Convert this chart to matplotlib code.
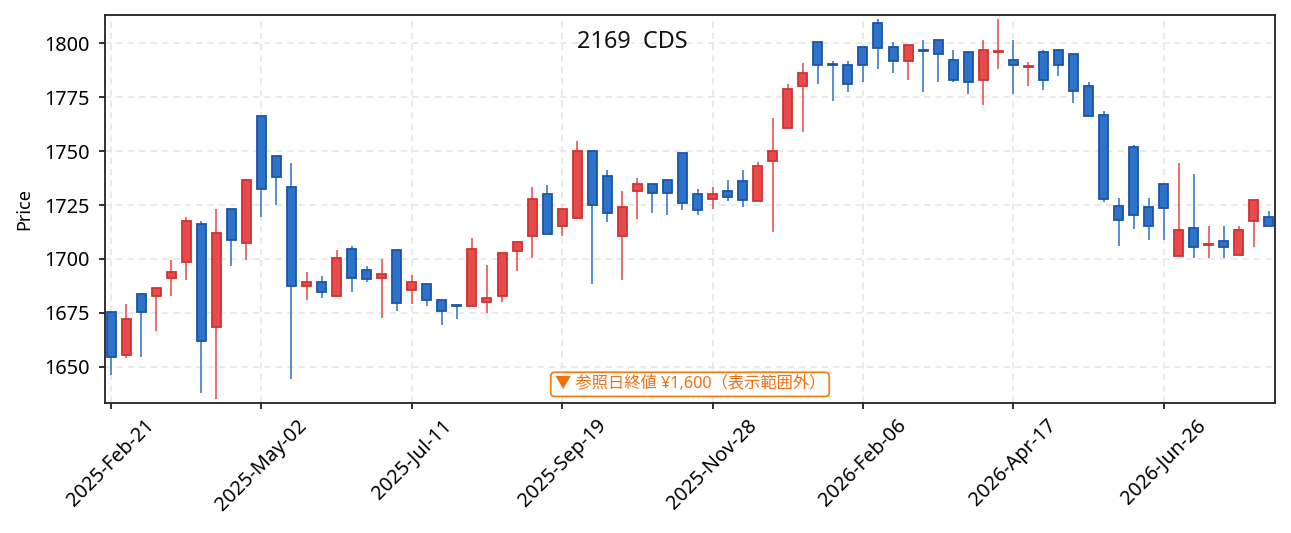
import matplotlib
matplotlib.use("Agg")
import matplotlib.pyplot as plt
import numpy as np
import pandas as pd

plt.rcParams['font.family'] = ['Noto Sans', 'Noto Sans CJK JP', 'DejaVu Sans']

dates = pd.date_range("2025-02-21", periods=78, freq="7D")

opens = [1675.5, 1655.5, 1684.0, 1683.0, 1691.0, 1698.5, 1716.0, 1668.5, 1723.0, 1707.5,
         1766.0, 1747.5, 1733.5, 1687.5, 1689.5, 1683.0, 1704.5, 1695.0, 1691.0, 1704.0,
         1685.5, 1688.5, 1681.0, 1678.5, 1678.0, 1680.0, 1683.0, 1703.5, 1710.5, 1730.0,
         1715.5, 1719.0, 1750.0, 1738.5, 1710.5, 1731.5, 1734.5, 1736.5, 1749.0, 1730.0,
         1728.0, 1731.5, 1736.0, 1727.0, 1745.5, 1760.5, 1780.0, 1800.5, 1790.5, 1790.0,
         1798.0, 1809.5, 1798.0, 1791.5, 1797.0, 1801.5, 1792.0, 1796.0, 1783.0, 1796.0,
         1792.0, 1789.0, 1796.0, 1797.0, 1795.0, 1780.0, 1766.5, 1724.5, 1752.0, 1724.0,
         1734.5, 1701.5, 1714.5, 1706.5, 1708.5, 1702.0, 1717.5, 1719.5]
highs = [1675.5, 1679.2, 1684.0, 1686.7, 1699.5, 1719.3, 1717.4, 1723.1, 1723.3, 1737.0,
         1766.4, 1747.5, 1744.4, 1694.0, 1692.1, 1704.2, 1706.0, 1696.8, 1700.0, 1704.0,
         1692.6, 1688.6, 1681.2, 1679.2, 1709.7, 1697.2, 1703.0, 1708.0, 1733.2, 1734.3,
         1723.3, 1754.6, 1750.1, 1741.2, 1731.5, 1737.5, 1734.5, 1736.7, 1749.0, 1732.3,
         1733.3, 1736.6, 1741.2, 1744.8, 1765.3, 1781.0, 1790.7, 1800.6, 1791.7, 1791.7,
         1798.0, 1811.1, 1800.5, 1799.0, 1801.4, 1801.5, 1796.8, 1796.0, 1801.4, 1811.1,
         1801.4, 1791.3, 1796.8, 1797.0, 1795.0, 1781.9, 1768.5, 1728.1, 1752.8, 1728.1,
         1734.6, 1744.3, 1739.4, 1715.3, 1715.3, 1715.3, 1727.5, 1722.2]
lows = [1646.3, 1654.0, 1654.6, 1666.8, 1683.0, 1690.3, 1638.1, 1635.3, 1696.9, 1699.5,
        1719.6, 1725.2, 1644.6, 1681.0, 1682.1, 1683.0, 1684.9, 1689.5, 1672.8, 1676.1,
        1679.3, 1678.4, 1669.6, 1672.2, 1677.6, 1675.2, 1680.2, 1694.6, 1700.3, 1711.5,
        1710.8, 1719.0, 1688.6, 1717.3, 1690.4, 1718.3, 1721.4, 1720.5, 1722.5, 1720.5,
        1723.3, 1727.0, 1724.2, 1727.0, 1712.6, 1760.5, 1758.9, 1781.2, 1773.3, 1777.5,
        1782.1, 1788.1, 1786.3, 1783.0, 1777.5, 1782.1, 1782.1, 1776.5, 1771.4, 1788.1,
        1776.5, 1780.2, 1778.4, 1784.9, 1772.4, 1766.0, 1726.5, 1706.2, 1714.0, 1708.9,
        1708.9, 1701.4, 1700.6, 1700.6, 1700.6, 1701.7, 1705.7, 1715.4]
closes = [1654.5, 1672.0, 1675.5, 1686.5, 1694.0, 1717.5, 1662.0, 1712.0, 1709.0, 1736.5,
          1732.5, 1738.0, 1687.5, 1689.5, 1684.5, 1700.5, 1691.0, 1690.5, 1693.0, 1679.5,
          1689.5, 1681.0, 1676.0, 1678.0, 1704.5, 1682.0, 1703.0, 1708.0, 1728.0, 1711.5,
          1723.0, 1750.0, 1725.0, 1721.5, 1724.0, 1734.5, 1730.5, 1730.5, 1726.0, 1722.5,
          1730.0, 1728.5, 1727.5, 1743.0, 1750.0, 1778.5, 1786.0, 1790.0, 1790.0, 1781.0,
          1790.0, 1797.5, 1791.5, 1799.0, 1796.5, 1795.0, 1782.7, 1782.0, 1797.0, 1796.5,
          1790.0, 1789.5, 1783.0, 1790.0, 1778.0, 1766.0, 1728.0, 1718.0, 1720.5, 1715.5,
          1723.5, 1713.5, 1705.5, 1707.0, 1705.5, 1713.5, 1727.5, 1715.5]

title_text = "2169  CDS"
note_text = "▼ 参照日終値 ¥1,600（表示範囲外）"
tick_step = 10

o = np.array(opens); h = np.array(highs); l = np.array(lows); c = np.array(closes)
x = np.arange(len(o))
up = c >= o

up_face, up_edge, up_wick = "#E84B4B", "#CF3333", "#E85252"
dn_face, dn_edge, dn_wick = "#2C73C9", "#1D55A6", "#347AC9"

fig = plt.figure(figsize=(1291/130, 533/130), dpi=130)
ax = fig.add_axes([105/1291, 1-403/533, 1170/1291, 388/533])

wick_colors = [up_wick if u else dn_wick for u in up]
ax.vlines(x, l, h, colors=wick_colors, linewidth=0.9, zorder=2)

body_bottom = np.minimum(o, c)
body_h = np.maximum(np.abs(c - o), 0.5)
face = [up_face if u else dn_face for u in up]
edge = [up_edge if u else dn_edge for u in up]
ax.bar(x, body_h, bottom=body_bottom, width=0.6, color=face, edgecolor=edge,
       linewidth=1.0, zorder=3)

ax.set_xlim(-0.4, len(o) - 0.6)
ax.set_ylim(1633.3, 1813)
ax.set_yticks([1650, 1675, 1700, 1725, 1750, 1775, 1800])
ticks = x[::tick_step]
ax.set_xticks(ticks)
ax.set_xticklabels([dates[i].strftime("%Y-%b-%d") for i in ticks], rotation=45,
                   ha="center")
ax.tick_params(axis="both", labelsize=11, length=3.5, width=1.0, color="#222222")
ax.tick_params(axis="y", pad=5)
ax.grid(True, linestyle=(0, (4, 3)), color="#e6e6e6", linewidth=0.9, zorder=0)
ax.set_axisbelow(True)
for s in ax.spines.values():
    s.set_linewidth(1.0)
    s.set_color("#222222")
ax.set_ylabel("Price", fontsize=10, labelpad=6)

ax.text(0.451, 0.93, title_text, transform=ax.transAxes, ha="center", va="center",
        fontsize=13, color="#111111", zorder=5)
ax.text(0.5, 0.048, note_text, transform=ax.transAxes, ha="center", va="center",
        fontsize=9, color="#F07010", zorder=5,
        bbox=dict(boxstyle="round,pad=0.25", facecolor="white", edgecolor="#F57F17",
                  linewidth=1.0))

fig.savefig("out.png", dpi=130)
